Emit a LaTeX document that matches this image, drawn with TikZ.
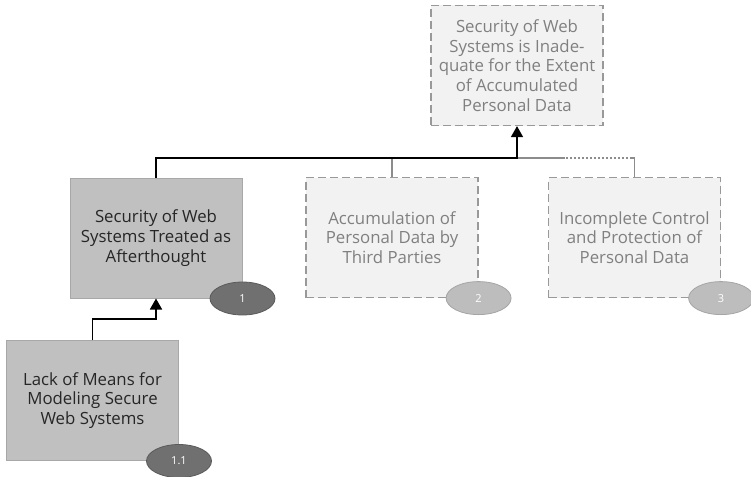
\documentclass[tikz,border=0pt]{standalone}
\usepackage{fontspec}
\setmainfont{Open Sans}
\usetikzlibrary{shapes.geometric,arrows.meta}

\definecolor{boxfill}{HTML}{F2F2F2}
\definecolor{boxline}{HTML}{999999}
\definecolor{boxtext}{HTML}{808080}
\definecolor{solidfill}{HTML}{C0C0C0}
\definecolor{solidline}{HTML}{A8A8A8}
\definecolor{darkfill}{HTML}{707070}
\definecolor{darkline}{HTML}{5A5A5A}
\definecolor{lightfill}{HTML}{BDBDBD}
\definecolor{lightline}{HTML}{A5A5A5}
\definecolor{busgray}{HTML}{8C8C8C}

\tikzset{
  goalbox/.style={rectangle, minimum width=172pt, minimum height=120pt,
    align=center, inner sep=0pt,
    font=\fontsize{16.8}{19.8}\selectfont},
  openbox/.style={goalbox, draw=boxline, fill=boxfill, text=boxtext,
    line width=1.2pt, dash pattern=on 8pt off 4pt},
  donebox/.style={goalbox, draw=solidline, fill=solidfill, text=black!85,
    line width=1pt},
  tagdark/.style={ellipse, draw=darkline, fill=darkfill, text=white,
    minimum width=65pt, minimum height=33pt, inner sep=0pt, line width=0.8pt,
    font=\fontsize{11}{13}\selectfont},
  taglight/.style={tagdark, draw=lightline, fill=lightfill},
  link/.style={draw=black, line width=1.6pt},
  linkarrow/.style={link, -{Triangle[width=12pt,length=11pt]}},
  graylink/.style={draw=busgray, line width=1.4pt},
}

\begin{document}
\begin{tikzpicture}[x=1pt,y=-1pt]
\useasboundingbox (0,0) rectangle (751,476);

% goal and sub-goals
\node[openbox] (top) at (517,65.5)
  {Security of Web\\Systems is Inade-\\quate for the Extent\\of Accumulated\\Personal Data};
\node[donebox] (b1) at (156,238)
  {Security of Web\\Systems Treated as\\Afterthought};
\node[openbox] (b2) at (392,237.5)
  {Accumulation of\\Personal Data by\\Third Parties};
\node[openbox] (b3) at (634.5,237.5)
  {Incomplete Control\\and Protection of\\Personal Data};
\node[donebox] (b11) at (92.5,400.5)
  {Lack of Means for\\Modeling Secure\\Web Systems};

% bus joints
\coordinate (j2) at (392,158);
\coordinate (j3) at (634.5,158);
\coordinate (dotend) at (565,158);
\coordinate (jtop) at (517,158);

% gray branches into the bus
\draw[graylink] (b2.north) -- (j2) -- (jtop);
\draw[graylink] (b3.north) -- (j3) -- ++(-3,0);
\draw[graylink, line width=1.2pt, dash pattern=on 1.5pt off 2.5pt] ([xshift=-3pt]j3) -- (dotend);
\draw[graylink] (dotend) -- (jtop);

% solid refinement links
\draw[linkarrow] (b1.north) |- (jtop) -- (top.south);
\draw[linkarrow] (b11.north) |- (92.5,319) -| (b1.south);

% number tags
\node[tagdark] (t1) at (b1.south east) {1};
\node[taglight] (t2) at (b2.south east) {2};
\node[taglight] (t3) at (b3.south east) {3};
\node[tagdark] (t11) at (b11.south east) {1.1};
\end{tikzpicture}
\end{document}
